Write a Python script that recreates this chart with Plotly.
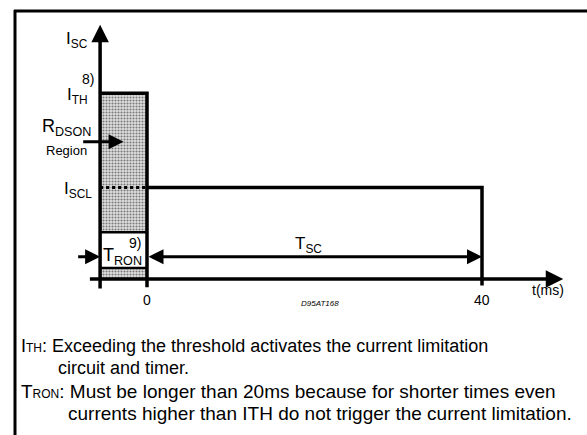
import plotly.graph_objects as go

# ---- data (schematic values) ----
time_ticks = [0, 40]                 # ms
time_tick_labels = ["0", "40"]
t_ron_start = -5.6                   # ms, start of T_RON window (y axis position)
t_sc_end = 40                        # ms, end of short-circuit time
i_th = 2.03                          # threshold current (relative)
i_scl = 1.0                          # current limitation level (relative)
tron_box = [0.12, 0.51]              # white T_RON window (relative current)
tron_arrow_level = 0.244
isc_axis_top = 2.78
t_axis_end = 49.7
t_axis_start = -7.0

W, H = 587, 435
# pixel mapping (margin 0): x: 0 ms at px 147, 8.375 px/ms ; y: 0 at px 279, 91.5 px/unit
XR = [-147 / 8.375, (W - 147) / 8.375]
YR = [-(H - 279) / 91.5, 279 / 91.5]

def P(xp, yp):
    return xp / W, 1 - yp / H

FONT = "Arial, Liberation Sans, sans-serif"
fig = go.Figure()

# hatched regions (R_DSON region)
hx = [t_ron_start, 0, 0, t_ron_start, t_ron_start, None,
      t_ron_start, 0, 0, t_ron_start, t_ron_start]
hy = [tron_box[1], tron_box[1], i_th, i_th, tron_box[1], None,
      0, 0, tron_box[0], tron_box[0], 0]
fig.add_trace(go.Scatter(x=hx, y=hy, mode="none", fill="toself",
                         fillcolor="white",
                         fillpattern=dict(shape=".", fgcolor="#111111", bgcolor="#e0e0e0",
                                          size=3, solidity=0.4),
                         hoverinfo="skip", showlegend=False))

line = dict(color="black", width=3.5)
# box outline: top and right edge
fig.add_trace(go.Scatter(x=[t_ron_start, 0, 0], y=[i_th, i_th, -0.09], mode="lines",
                         line=line, showlegend=False, hoverinfo="skip"))
# T_RON window edges
for yv in tron_box:
    fig.add_trace(go.Scatter(x=[t_ron_start, 0], y=[yv, yv], mode="lines",
                             line=dict(color="black", width=2.5), showlegend=False, hoverinfo="skip"))
# dotted I_SCL inside box
fig.add_trace(go.Scatter(x=[t_ron_start, 0], y=[i_scl, i_scl], mode="lines",
                         line=dict(color="black", width=3, dash="dot"), showlegend=False, hoverinfo="skip"))
# I_SCL waveform
fig.add_trace(go.Scatter(x=[0, t_sc_end, t_sc_end], y=[i_scl, i_scl, -0.07], mode="lines",
                         line=line, showlegend=False, hoverinfo="skip"))

ann = []
def arrow(x, y, ax, ay, width=3, both=False, size=1.0):
    ann.append(dict(x=x, y=y, ax=ax, ay=ay, xref="x", yref="y", axref="x", ayref="y",
                    text="", showarrow=True, arrowhead=2, arrowsize=size, arrowwidth=width,
                    arrowcolor="black", arrowside="end+start" if both else "end",
                    startarrowhead=2, startarrowsize=size))

# axes
arrow(t_ron_start, isc_axis_top, t_ron_start, -0.12, width=3.5, size=1.0)
arrow(t_axis_end, 0, t_axis_start, 0, width=3.5, size=1.0)
# T_SC double arrow
arrow(t_sc_end, tron_arrow_level, 0, tron_arrow_level, width=3, both=True, size=1.0)
# T_RON left arrow
arrow(t_ron_start, tron_arrow_level, t_ron_start - 2.8, tron_arrow_level, width=3, size=1.0)
# R_DSON arrow
arrow(t_ron_start + 2.8, 1.5, t_ron_start - 2.2, 1.5, width=3, size=1.0)

def txt(s, xp, yp, size, xanchor="center", yanchor="middle", italic=False):
    x, y = P(xp, yp)
    ann.append(dict(x=x, y=y, xref="paper", yref="paper", text=s, showarrow=False,
                    xanchor=xanchor, yanchor=yanchor, align="left",
                    font=dict(family=FONT, size=size, color="black",
                              style="italic" if italic else "normal")))

txt("I<sub>SC</sub>", 90, 40, 17, xanchor="right")
txt("8)", 96, 79, 14, xanchor="right")
txt("I<sub>TH</sub>", 90, 96, 17, xanchor="right")
txt("R<sub>DSON</sub>", 40, 127, 18, xanchor="left")
txt("Region", 66, 150, 13)
txt("I<sub>SCL</sub>", 94, 190, 17, xanchor="right")
txt("9)", 143, 243, 14, xanchor="right")
txt("T<sub>RON</sub>", 101, 256, 18, xanchor="left")
txt("T<sub>SC</sub>", 293, 245, 17, xanchor="left")
for tv, tl in zip(time_ticks, time_tick_labels):
    txt(tl, 147 + 8.375 * tv, 300, 14)
txt("D95AT168", 320, 303, 8, italic=True)
txt("t(ms)", 548, 290, 14)

small = "<span style='font-size:12px'>%s</span>"
txt("I" + small % "TH" + ": Exceeding the threshold activates the current limitation", 19, 346, 18, xanchor="left")
txt("circuit and timer.", 56, 368, 18, xanchor="left")
txt("T" + small % "RON" + ": Must be longer than 20ms because for shorter times even", 19, 391, 19, xanchor="left")
txt("currents higher than ITH do not trigger the current limitation.", 66, 413, 19, xanchor="left")

fig.update_layout(
    width=W, height=H, margin=dict(l=0, r=0, t=0, b=0),
    paper_bgcolor="white", plot_bgcolor="white",
    xaxis=dict(range=XR, visible=False, fixedrange=True),
    yaxis=dict(range=YR, visible=False, fixedrange=True),
    annotations=ann,
    shapes=[
        dict(type="line", xref="paper", yref="paper", x0=14 / W, x1=1, y0=1 - 11 / H, y1=1 - 11 / H,
             line=dict(color="black", width=3)),
        dict(type="line", xref="paper", yref="paper", x0=15 / W, x1=15 / W, y0=1 - 10 / H, y1=0,
             line=dict(color="black", width=3)),
    ],
    showlegend=False,
)
fig.write_html("out.html", config={"displayModeBar": False},
               post_script="document.body.style.margin='0';document.body.style.overflow='hidden';")
